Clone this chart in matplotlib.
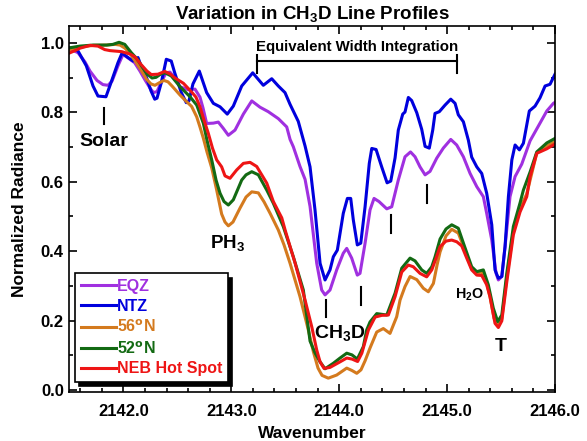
import matplotlib
matplotlib.use('Agg')
import matplotlib.pyplot as plt
from matplotlib.ticker import MultipleLocator, FormatStrFormatter

plt.rcParams['font.family'] = ['Liberation Sans', 'DejaVu Sans']
plt.rcParams['font.weight'] = 'bold'
plt.rcParams['mathtext.fontset'] = 'custom'
plt.rcParams['mathtext.rm'] = 'Liberation Sans:bold'
plt.rcParams['mathtext.default'] = 'rm'

# EQZ
eqz_wn = [2141.5, 2141.58, 2141.645, 2141.691, 2141.756, 2141.811, 2141.858, 2141.895, 2141.95, 2141.997,
          2142.043, 2142.105, 2142.154, 2142.198, 2142.247, 2142.279, 2142.312, 2142.349, 2142.395, 2142.432,
          2142.479, 2142.525, 2142.602, 2142.664, 2142.71, 2142.738, 2142.772, 2142.834, 2142.88, 2142.926,
          2142.973, 2143.035, 2143.112, 2143.19, 2143.266, 2143.343, 2143.436, 2143.514, 2143.545, 2143.575,
          2143.637, 2143.684, 2143.73, 2143.792, 2143.838, 2143.869, 2143.915, 2143.977, 2144.038, 2144.07,
          2144.116, 2144.168, 2144.193, 2144.24, 2144.286, 2144.323, 2144.369, 2144.441, 2144.487, 2144.548,
          2144.61, 2144.661, 2144.703, 2144.749, 2144.796, 2144.842, 2144.904, 2144.965, 2145.034, 2145.089,
          2145.151, 2145.213, 2145.275, 2145.336, 2145.367, 2145.414, 2145.454, 2145.475, 2145.507, 2145.537,
          2145.583, 2145.63, 2145.692, 2145.769, 2145.861, 2145.924, 2145.985, 2146.0]
eqz_rad = [0.983, 0.972, 0.945, 0.919, 0.892, 0.88, 0.878, 0.89, 0.934, 0.967,
           0.957, 0.943, 0.919, 0.895, 0.87, 0.857, 0.86, 0.885, 0.914, 0.916,
           0.899, 0.874, 0.865, 0.867, 0.844, 0.813, 0.768, 0.769, 0.772, 0.754,
           0.734, 0.749, 0.795, 0.833, 0.815, 0.802, 0.782, 0.758, 0.722, 0.701,
           0.644, 0.607, 0.529, 0.365, 0.288, 0.274, 0.288, 0.346, 0.394, 0.408,
           0.38, 0.331, 0.336, 0.423, 0.519, 0.552, 0.543, 0.522, 0.528, 0.605,
           0.672, 0.686, 0.672, 0.643, 0.62, 0.63, 0.668, 0.697, 0.722, 0.706,
           0.672, 0.624, 0.586, 0.557, 0.509, 0.432, 0.336, 0.317, 0.327, 0.413,
           0.557, 0.615, 0.651, 0.718, 0.769, 0.804, 0.826, 0.829]

# NTZ
ntz_wn = [2141.5, 2141.58, 2141.657, 2141.719, 2141.765, 2141.839, 2141.886, 2141.95, 2141.988, 2142.043,
          2142.09, 2142.136, 2142.164, 2142.21, 2142.256, 2142.291, 2142.312, 2142.352, 2142.398, 2142.444,
          2142.476, 2142.537, 2142.583, 2142.608, 2142.645, 2142.704, 2142.772, 2142.834, 2142.896, 2142.963,
          2143.019, 2143.097, 2143.199, 2143.297, 2143.375, 2143.436, 2143.498, 2143.545, 2143.621, 2143.684,
          2143.73, 2143.776, 2143.823, 2143.869, 2143.915, 2143.946, 2143.983, 2144.038, 2144.076, 2144.107,
          2144.131, 2144.168, 2144.2, 2144.24, 2144.279, 2144.302, 2144.342, 2144.394, 2144.444, 2144.478,
          2144.518, 2144.548, 2144.589, 2144.61, 2144.641, 2144.672, 2144.719, 2144.765, 2144.796, 2144.835,
          2144.867, 2144.888, 2144.928, 2144.981, 2145.034, 2145.074, 2145.104, 2145.151, 2145.197, 2145.228,
          2145.275, 2145.321, 2145.367, 2145.414, 2145.444, 2145.475, 2145.507, 2145.537, 2145.568, 2145.6,
          2145.63, 2145.67, 2145.707, 2145.762, 2145.815, 2145.861, 2145.908, 2145.954, 2146.0]
ntz_rad = [0.986, 0.977, 0.934, 0.876, 0.847, 0.845, 0.886, 0.943, 0.971, 0.958,
           0.948, 0.958, 0.934, 0.905, 0.862, 0.838, 0.841, 0.886, 0.953, 0.948,
           0.914, 0.857, 0.828, 0.833, 0.882, 0.919, 0.857, 0.826, 0.816, 0.795,
           0.818, 0.876, 0.914, 0.878, 0.897, 0.876, 0.857, 0.823, 0.774, 0.703,
           0.643, 0.519, 0.365, 0.317, 0.346, 0.384, 0.403, 0.509, 0.552, 0.552,
           0.49, 0.418, 0.423, 0.528, 0.653, 0.696, 0.693, 0.643, 0.597, 0.602,
           0.669, 0.749, 0.795, 0.801, 0.843, 0.834, 0.799, 0.751, 0.702, 0.697,
           0.749, 0.797, 0.802, 0.821, 0.838, 0.826, 0.793, 0.773, 0.72, 0.671,
           0.643, 0.624, 0.567, 0.476, 0.346, 0.322, 0.327, 0.413, 0.557, 0.663,
           0.706, 0.692, 0.711, 0.804, 0.818, 0.842, 0.876, 0.881, 0.91]

# 56N
n56_wn = [2141.5, 2141.598, 2141.719, 2141.846, 2141.923, 2141.969, 2142.015, 2142.062, 2142.124, 2142.164,
          2142.216, 2142.256, 2142.293, 2142.337, 2142.377, 2142.414, 2142.451, 2142.525, 2142.576, 2142.633,
          2142.68, 2142.71, 2142.741, 2142.775, 2142.819, 2142.865, 2142.911, 2142.942, 2142.973, 2143.016,
          2143.081, 2143.137, 2143.19, 2143.251, 2143.304, 2143.36, 2143.436, 2143.489, 2143.545, 2143.637,
          2143.714, 2143.761, 2143.804, 2143.841, 2143.899, 2143.977, 2144.07, 2144.119, 2144.163, 2144.202,
          2144.24, 2144.286, 2144.348, 2144.409, 2144.471, 2144.533, 2144.564, 2144.61, 2144.657, 2144.719,
          2144.78, 2144.826, 2144.873, 2144.907, 2144.935, 2144.99, 2145.043, 2145.104, 2145.157, 2145.228,
          2145.275, 2145.321, 2145.367, 2145.398, 2145.435, 2145.475, 2145.507, 2145.553, 2145.614, 2145.676,
          2145.738, 2145.831, 2145.924, 2146.0]
n56_rad = [0.98, 0.988, 0.993, 0.994, 0.996, 0.994, 0.985, 0.97, 0.941, 0.922,
           0.895, 0.882, 0.878, 0.886, 0.892, 0.888, 0.876, 0.85, 0.834, 0.817,
           0.787, 0.758, 0.726, 0.686, 0.64, 0.576, 0.507, 0.484, 0.473, 0.484,
           0.524, 0.556, 0.571, 0.568, 0.542, 0.509, 0.461, 0.418, 0.365, 0.269,
           0.173, 0.11, 0.063, 0.042, 0.034, 0.043, 0.063, 0.056, 0.048, 0.058,
           0.084, 0.121, 0.167, 0.177, 0.163, 0.211, 0.259, 0.298, 0.327, 0.318,
           0.293, 0.283, 0.307, 0.36, 0.398, 0.444, 0.463, 0.452, 0.409, 0.349,
           0.337, 0.34, 0.308, 0.268, 0.207, 0.184, 0.205, 0.323, 0.458, 0.524,
           0.565, 0.683, 0.703, 0.716]

# 52N
n52_wn = [2141.5, 2141.598, 2141.719, 2141.846, 2141.904, 2141.96, 2142.013, 2142.074, 2142.127, 2142.173,
          2142.219, 2142.266, 2142.303, 2142.349, 2142.386, 2142.444, 2142.525, 2142.618, 2142.68, 2142.741,
          2142.775, 2142.819, 2142.859, 2142.896, 2142.933, 2142.973, 2143.019, 2143.097, 2143.137, 2143.19,
          2143.251, 2143.329, 2143.39, 2143.482, 2143.575, 2143.668, 2143.73, 2143.776, 2143.823, 2143.869,
          2143.946, 2144.008, 2144.07, 2144.119, 2144.168, 2144.224, 2144.255, 2144.286, 2144.348, 2144.441,
          2144.518, 2144.58, 2144.657, 2144.703, 2144.765, 2144.811, 2144.858, 2144.888, 2144.935, 2144.99,
          2145.043, 2145.104, 2145.157, 2145.228, 2145.275, 2145.336, 2145.382, 2145.428, 2145.469, 2145.507,
          2145.553, 2145.614, 2145.676, 2145.707, 2145.769, 2145.831, 2145.924, 2146.0]
n52_rad = [0.986, 0.991, 0.994, 0.994, 0.996, 1.002, 0.996, 0.972, 0.954, 0.932,
           0.911, 0.899, 0.901, 0.911, 0.914, 0.905, 0.874, 0.845, 0.821, 0.769,
           0.72, 0.663, 0.605, 0.567, 0.543, 0.533, 0.548, 0.605, 0.62, 0.629,
           0.62, 0.576, 0.538, 0.471, 0.384, 0.288, 0.141, 0.107, 0.081, 0.061,
           0.077, 0.092, 0.106, 0.101, 0.089, 0.125, 0.173, 0.196, 0.22, 0.216,
           0.279, 0.351, 0.38, 0.372, 0.346, 0.336, 0.355, 0.383, 0.435, 0.464,
           0.476, 0.466, 0.418, 0.355, 0.341, 0.346, 0.303, 0.236, 0.197, 0.216,
           0.336, 0.471, 0.539, 0.576, 0.628, 0.686, 0.712, 0.725]

# NEB Hot Spot
neb_wn = [2141.5, 2141.552, 2141.598, 2141.691, 2141.765, 2141.827, 2141.876, 2141.985, 2142.062, 2142.108,
          2142.164, 2142.219, 2142.259, 2142.321, 2142.383, 2142.432, 2142.479, 2142.556, 2142.632, 2142.673,
          2142.71, 2142.747, 2142.787, 2142.826, 2142.865, 2142.911, 2142.942, 2142.988, 2143.05, 2143.112,
          2143.174, 2143.236, 2143.329, 2143.39, 2143.468, 2143.499, 2143.592, 2143.684, 2143.746, 2143.792,
          2143.823, 2143.86, 2143.915, 2144.008, 2144.07, 2144.119, 2144.171, 2144.21, 2144.271, 2144.333,
          2144.394, 2144.456, 2144.518, 2144.58, 2144.641, 2144.687, 2144.749, 2144.811, 2144.858, 2144.898,
          2144.935, 2144.99, 2145.043, 2145.09, 2145.136, 2145.182, 2145.228, 2145.275, 2145.321, 2145.367,
          2145.398, 2145.444, 2145.475, 2145.507, 2145.553, 2145.614, 2145.676, 2145.738, 2145.769, 2145.831,
          2145.924, 2146.0]
neb_rad = [0.971, 0.978, 0.985, 0.993, 0.991, 0.981, 0.978, 0.975, 0.968, 0.96,
           0.938, 0.919, 0.909, 0.91, 0.918, 0.911, 0.899, 0.884, 0.859, 0.844,
           0.816, 0.778, 0.74, 0.697, 0.663, 0.643, 0.617, 0.61, 0.634, 0.653,
           0.656, 0.644, 0.596, 0.543, 0.496, 0.461, 0.365, 0.259, 0.182, 0.115,
           0.081, 0.062, 0.065, 0.081, 0.092, 0.089, 0.082, 0.106, 0.173, 0.21,
           0.215, 0.216, 0.269, 0.34, 0.36, 0.355, 0.336, 0.326, 0.346, 0.38,
           0.413, 0.429, 0.432, 0.427, 0.415, 0.38, 0.346, 0.331, 0.33, 0.303,
           0.268, 0.192, 0.18, 0.199, 0.311, 0.447, 0.513, 0.557, 0.615, 0.682,
           0.695, 0.709]

# little vertical marks under the lines
mark_wn = [2141.822, 2143.878, 2144.205, 2144.481, 2144.814]
mark_lo = [0.767, 0.210, 0.245, 0.452, 0.539]
mark_hi = [0.813, 0.259, 0.297, 0.504, 0.591]

# equivalent width bracket
ew_start = 2143.236
ew_end = 2145.095

series = [
    (eqz_wn, eqz_rad, '#A030E0', 'EQZ'),
    (ntz_wn, ntz_rad, '#0000DD', 'NTZ'),
    (n56_wn, n56_rad, '#D47A1E', '56$^{\\mathbf{o}}$N'),
    (n52_wn, n52_rad, '#136A13', '52$^{\\mathbf{o}}$N'),
    (neb_wn, neb_rad, '#EE1515', 'NEB Hot Spot'),
]

fig = plt.figure(figsize=(5.87, 4.41), dpi=100)
ax = fig.add_axes([0.1182, 0.1118, 0.8273, 0.8293])

for wn, rad, color, label in series:
    ax.plot(wn, rad, color=color, lw=2.2, label=label, solid_joinstyle='round')

# marks
for w, lo, hi in zip(mark_wn, mark_lo, mark_hi):
    ax.plot([w, w], [lo, hi], color='black', lw=1.5)

# bracket
ax.plot([ew_start, ew_end], [0.948, 0.948], color='black', lw=1.5)
ax.plot([ew_start, ew_start], [0.913, 0.965], color='black', lw=1.5)
ax.plot([ew_end, ew_end], [0.913, 0.965], color='black', lw=1.5)
ax.text((ew_start + ew_end) / 2, 0.988, 'Equivalent Width Integration', ha='center', va='center',
        fontsize=10.8, fontweight='bold')

# labels on the lines
ax.text(2141.822, 0.715, 'Solar', ha='center', va='center', fontsize=14, fontweight='bold')
ax.text(2142.97, 0.424, 'PH$_3$', ha='center', va='center', fontsize=13.5, fontweight='bold')
ax.text(2144.01, 0.164, 'CH$_3$D', ha='center', va='center', fontsize=14, fontweight='bold')
ax.text(2145.205, 0.274, 'H$_2$O', ha='center', va='center', fontsize=10.3, fontweight='bold')
ax.text(2145.5, 0.124, 'T', ha='center', va='center', fontsize=14, fontweight='bold')

ax.set_xlim(2141.5, 2146.0)
ax.set_ylim(-0.005, 1.049)
ax.xaxis.set_major_locator(MultipleLocator(1.0))
ax.xaxis.set_minor_locator(MultipleLocator(0.2))
ax.yaxis.set_major_locator(MultipleLocator(0.2))
ax.yaxis.set_minor_locator(MultipleLocator(0.1))
ax.xaxis.set_major_formatter(FormatStrFormatter('%.1f'))
ax.yaxis.set_major_formatter(FormatStrFormatter('%.1f'))
ax.tick_params(which='both', direction='in', top=True, right=True, width=1.2)
ax.tick_params(which='major', length=5.5, labelsize=12)
ax.tick_params(axis='x', which='major', pad=9)
ax.tick_params(axis='y', which='major', pad=4)
ax.tick_params(which='minor', length=3)
for sp in ax.spines.values():
    sp.set_linewidth(1.2)

ax.set_title('Variation in CH$_3$D Line Profiles', fontsize=13.5, fontweight='bold', pad=5)
ax.set_xlabel('Wavenumber', fontsize=12.5, fontweight='bold', labelpad=5)
ax.set_ylabel('Normalized Radiance', fontsize=12.5, fontweight='bold', labelpad=10)

leg = ax.legend(loc='lower left', bbox_to_anchor=(0.0115, 0.0265), borderaxespad=0, fontsize=11.5,
                labelcolor='linecolor', handlelength=2.2, handletextpad=0.1, labelspacing=0.3,
                borderpad=0.35, fancybox=False, edgecolor='black', framealpha=1,
                shadow={'color': 'black', 'alpha': 1, 'ox': 3, 'oy': -3})
leg.get_frame().set_linewidth(1.2)

fig.savefig('out.png', dpi=100)
